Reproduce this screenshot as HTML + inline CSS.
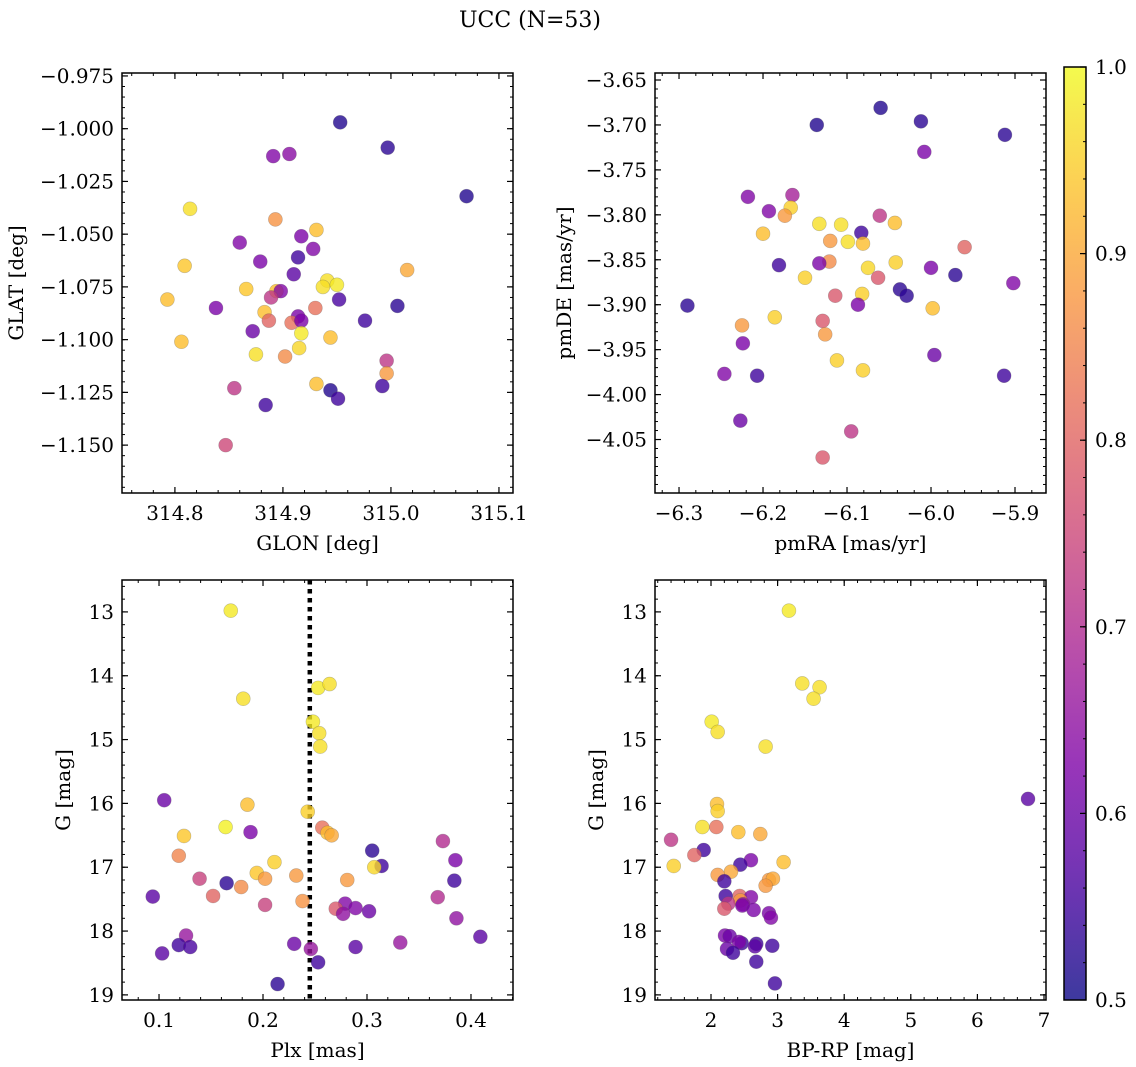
<!DOCTYPE html>
<html><head><meta charset="utf-8"><style>
body{margin:0;background:#fff}
svg{display:block;font-family:"DejaVu Serif","Liberation Serif",serif}
</style></head><body>
<svg id="fig" width="1136" height="1067" xmlns="http://www.w3.org/2000/svg">
<text x="530" y="27" font-size="22" text-anchor="middle">UCC (N=53)</text>
</svg>
<script>
// ---- Panel 1: GLON / GLAT ----
const glon=[314.953,314.997,314.891,314.906,315.070,314.814,314.893,314.931,314.917,314.860,314.928,314.809,314.879,314.914,314.910,315.015,314.941,314.950,314.937,314.866,314.894,314.898,314.793,314.952,315.006,314.838,314.930,314.889,314.914,314.883,314.908,314.917,314.976,314.887,314.872,314.917,314.806,314.944,314.915,314.875,314.902,314.996,314.996,314.931,314.944,314.855,314.992,314.951,314.884,314.847];
const glat=[-0.997,-1.009,-1.013,-1.012,-1.032,-1.038,-1.043,-1.048,-1.051,-1.054,-1.057,-1.065,-1.063,-1.061,-1.069,-1.067,-1.072,-1.074,-1.075,-1.076,-1.077,-1.077,-1.081,-1.081,-1.084,-1.085,-1.085,-1.080,-1.089,-1.087,-1.092,-1.091,-1.091,-1.091,-1.096,-1.097,-1.101,-1.099,-1.104,-1.107,-1.108,-1.110,-1.116,-1.121,-1.124,-1.123,-1.122,-1.128,-1.131,-1.150];
const prob1=[0.52,0.53,0.63,0.64,0.52,0.97,0.87,0.93,0.62,0.63,0.63,0.94,0.62,0.55,0.58,0.9,0.97,0.98,0.97,0.94,0.93,0.63,0.93,0.56,0.53,0.62,0.82,0.72,0.62,0.93,0.82,0.62,0.55,0.8,0.6,0.98,0.93,0.93,0.96,0.97,0.86,0.72,0.88,0.93,0.52,0.72,0.55,0.55,0.55,0.75];
// ---- Panel 2: pmRA / pmDE ----
const pmra=[-6.060,-6.136,-5.912,-6.012,-6.008,-6.218,-6.165,-6.167,-6.193,-6.174,-6.200,-6.133,-6.107,-6.061,-6.043,-6.120,-6.083,-6.099,-6.081,-6.121,-6.075,-6.042,-6.133,-6.000,-5.971,-5.902,-6.063,-6.150,-6.181,-6.290,-6.037,-6.029,-6.082,-6.114,-6.186,-5.998,-6.087,-6.225,-6.129,-6.126,-6.224,-5.996,-6.112,-6.081,-6.246,-6.207,-5.913,-6.227,-6.095,-6.129,-5.960];
const pmde=[-3.681,-3.700,-3.711,-3.696,-3.730,-3.780,-3.778,-3.792,-3.796,-3.801,-3.821,-3.810,-3.811,-3.801,-3.809,-3.829,-3.820,-3.830,-3.832,-3.852,-3.859,-3.853,-3.854,-3.859,-3.867,-3.876,-3.870,-3.870,-3.856,-3.901,-3.883,-3.890,-3.888,-3.890,-3.914,-3.904,-3.900,-3.923,-3.918,-3.933,-3.943,-3.956,-3.962,-3.973,-3.977,-3.979,-3.979,-4.029,-4.041,-4.070,-3.836];
const prob2=[0.52,0.52,0.53,0.53,0.62,0.63,0.68,0.95,0.63,0.88,0.93,0.97,0.97,0.72,0.93,0.88,0.55,0.97,0.93,0.86,0.96,0.95,0.62,0.62,0.53,0.63,0.78,0.95,0.55,0.53,0.53,0.53,0.95,0.78,0.95,0.93,0.62,0.88,0.78,0.88,0.62,0.6,0.95,0.95,0.63,0.55,0.55,0.6,0.72,0.78,0.8];
// ---- Panel 3: Plx / G ----
const plx=[0.105,0.185,0.164,0.188,0.124,0.119,0.211,0.194,0.202,0.232,0.139,0.165,0.179,0.152,0.094,0.202,0.238,0.126,0.119,0.130,0.103,0.230,0.214,0.243,0.257,0.262,0.266,0.373,0.305,0.385,0.314,0.307,0.281,0.384,0.368,0.279,0.270,0.277,0.289,0.302,0.386,0.409,0.332,0.246,0.289,0.253,0.169,0.253,0.264,0.181,0.248,0.254,0.255];
const gmag3=[15.95,16.02,16.37,16.45,16.51,16.82,16.92,17.09,17.18,17.13,17.18,17.25,17.31,17.45,17.46,17.59,17.53,18.07,18.22,18.25,18.35,18.20,18.83,16.13,16.38,16.46,16.50,16.59,16.74,16.89,16.98,17.00,17.20,17.21,17.47,17.57,17.65,17.73,17.64,17.69,17.80,18.09,18.18,18.28,18.25,18.49,12.98,14.19,14.13,14.36,14.72,14.90,15.11];
const prob3=[0.6,0.93,0.99,0.62,0.94,0.85,0.95,0.94,0.88,0.88,0.74,0.53,0.86,0.8,0.58,0.74,0.87,0.66,0.55,0.56,0.58,0.6,0.53,0.95,0.82,0.93,0.9,0.7,0.53,0.62,0.55,0.96,0.88,0.55,0.7,0.63,0.78,0.65,0.63,0.6,0.65,0.58,0.66,0.66,0.58,0.55,0.98,0.98,0.97,0.97,0.98,0.97,0.97];
const plxLine=0.245;
// ---- Panel 4: BP-RP / G ----
const bprp=[3.17,3.37,3.63,3.54,2.01,2.10,2.82,6.76,2.09,2.10,1.87,1.40,2.08,2.41,2.74,1.89,1.75,2.60,3.09,2.44,1.44,2.30,2.10,2.87,2.93,2.82,2.20,2.43,2.60,2.44,2.22,2.48,2.26,2.47,2.20,2.64,2.87,2.90,2.21,2.28,2.46,2.42,2.68,2.66,2.92,2.24,2.33,2.68,2.96];
const gmag4=[12.98,14.12,14.18,14.36,14.72,14.88,15.11,15.93,16.01,16.12,16.37,16.57,16.37,16.45,16.48,16.73,16.81,16.89,16.92,16.96,16.98,17.07,17.12,17.20,17.18,17.29,17.22,17.45,17.47,17.52,17.45,17.58,17.57,17.60,17.65,17.67,17.72,17.79,18.07,18.08,18.19,18.17,18.20,18.24,18.23,18.28,18.34,18.48,18.82];
const prob4=[0.98,0.97,0.97,0.97,0.98,0.97,0.97,0.58,0.93,0.95,0.97,0.72,0.82,0.93,0.9,0.55,0.8,0.62,0.93,0.55,0.95,0.9,0.88,0.88,0.9,0.88,0.55,0.8,0.63,0.88,0.55,0.65,0.72,0.62,0.78,0.62,0.62,0.63,0.62,0.6,0.55,0.62,0.55,0.58,0.55,0.6,0.55,0.55,0.55];
// ---- Colorbar ----
const cbTicks=[0.5,0.6,0.7,0.8,0.9,1.0];

const NS="http://www.w3.org/2000/svg";
const svg=document.getElementById('fig');
const FS=20;
function mk(tag,attrs,parent){const e=document.createElementNS(NS,tag);for(const k in attrs)e.setAttribute(k,attrs[k]);(parent||svg).appendChild(e);return e;}
const stops=[[13,8,135],[76,2,161],[126,3,168],[169,35,149],[204,71,120],[229,107,93],[248,149,64],[253,195,40],[240,249,33]];
function plasma(p){let t=Math.max(0,Math.min(1,(p-0.5)/0.5))*(stops.length-1);const i=Math.min(Math.floor(t),stops.length-2);const f=t-i;const c=stops[i].map((v,k)=>Math.round(v+(stops[i+1][k]-v)*f));return 'rgb('+c.join(',')+')';}
function fmt(v,d){const s=Math.abs(v).toFixed(d);return (v<0?'\u2212':'')+s;}

function panel(o){
  const g=mk('g',{});
  
  
  const X=v=>o.x0+(v-o.xmin)/(o.xmax-o.xmin)*(o.x1-o.x0);
  const Y=v=>o.yinv? o.y0+(v-o.ymin)/(o.ymax-o.ymin)*(o.y1-o.y0) : o.y1-(v-o.ymin)/(o.ymax-o.ymin)*(o.y1-o.y0);
  const eps=1e-9;
  for(let v=Math.ceil(o.xmin/o.xminor-eps)*o.xminor;v<=o.xmax+eps;v+=o.xminor){const px=X(v);
    mk('line',{x1:px,x2:px,y1:o.y1,y2:o.y1-3,stroke:'#000','stroke-width':1},g);
    mk('line',{x1:px,x2:px,y1:o.y0,y2:o.y0+3,stroke:'#000','stroke-width':1},g);}
  for(let v=Math.ceil(o.ymin/o.yminor-eps)*o.yminor;v<=o.ymax+eps;v+=o.yminor){const py=Y(v);
    mk('line',{x1:o.x0,x2:o.x0+3,y1:py,y2:py,stroke:'#000','stroke-width':1},g);
    mk('line',{x1:o.x1,x2:o.x1-3,y1:py,y2:py,stroke:'#000','stroke-width':1},g);}
  o.xticks.forEach(v=>{const px=X(v);
    mk('line',{x1:px,x2:px,y1:o.y1,y2:o.y1-6,stroke:'#000','stroke-width':1.2},g);
    mk('line',{x1:px,x2:px,y1:o.y0,y2:o.y0+6,stroke:'#000','stroke-width':1.2},g);
    const t=mk('text',{x:px,y:o.y1+27,'font-size':FS,'text-anchor':'middle'},g);t.textContent=fmt(v,o.xdec);
    
    });
  o.yticks.forEach(v=>{const py=Y(v);
    mk('line',{x1:o.x0,x2:o.x0+6,y1:py,y2:py,stroke:'#000','stroke-width':1.2},g);
    mk('line',{x1:o.x1,x2:o.x1-6,y1:py,y2:py,stroke:'#000','stroke-width':1.2},g);
    const t=mk('text',{x:o.x0-8,y:py+7,'font-size':FS,'text-anchor':'end'},g);t.textContent=fmt(v,o.ydec);
    
    });
  if(o.vline!==undefined){const l=mk('line',{x1:X(o.vline),x2:X(o.vline),y1:o.y0,y2:o.y1,stroke:'#000','stroke-width':4.5,'stroke-dasharray':'4.5,4.5'},g);
    
    }
  o.xs.forEach((xv,i)=>{const col=plasma(o.ps[i]);
    const c=mk('circle',{cx:X(xv),cy:Y(o.ys[i]),r:7,fill:col,'fill-opacity':0.8,stroke:'#555','stroke-opacity':0.35,'stroke-width':0.6},g);
    
    });
  const fr=mk('rect',{x:o.x0,y:o.y0,width:o.x1-o.x0,height:o.y1-o.y0,fill:'none',stroke:'#000','stroke-width':1.5},g);
  
  
  const xl=mk('text',{x:(o.x0+o.x1)/2,y:o.y1+57,'font-size':FS,'text-anchor':'middle'},g);xl.textContent=o.xlabel;
  
  
  const yx=o.ylx;const yy=(o.y0+o.y1)/2;
  const yl=mk('text',{x:yx,y:yy,'font-size':FS,'text-anchor':'middle',transform:'rotate(-90 '+yx+' '+yy+')'},g);yl.textContent=o.ylabel;
  
  
}
function range(a,b,s){const r=[];for(let v=a;v<=b+1e-9;v+=s)r.push(Math.round(v*1e4)/1e4);return r;}

panel({name:'glon-glat-panel',x0:122,x1:513,y0:73,y1:493,xmin:314.751,xmax:315.113,ymin:-1.1727,ymax:-0.9736,
  xticks:[314.8,314.9,315.0,315.1],xdec:1,xminor:0.02,yticks:range(-1.15,-0.975,0.025),ydec:3,yminor:0.005,
  xs:glon,ys:glat,ps:prob1,xlabel:'GLON [deg]',ylabel:'GLAT [deg]',ylx:23});
panel({name:'pm-panel',x0:655,x1:1046,y0:73,y1:493,xmin:-6.3286,xmax:-5.8631,ymin:-4.1095,ymax:-3.6422,
  xticks:[-6.3,-6.2,-6.1,-6.0,-5.9],xdec:1,xminor:0.02,yticks:range(-4.05,-3.65,0.05),ydec:2,yminor:0.01,
  xs:pmra,ys:pmde,ps:prob2,xlabel:'pmRA [mas/yr]',ylabel:'pmDE [mas/yr]',ylx:571});
panel({name:'plx-g-panel',x0:122,x1:513,y0:580,y1:1000,xmin:0.0644,xmax:0.4404,ymin:12.50,ymax:19.08,yinv:true,
  xticks:[0.1,0.2,0.3,0.4],xdec:1,xminor:0.02,yticks:[13,14,15,16,17,18,19],ydec:0,yminor:0.2,
  xs:plx,ys:gmag3,ps:prob3,vline:plxLine,xlabel:'Plx [mas]',ylabel:'G [mag]',ylx:70});
panel({name:'cmd-panel',x0:655,x1:1046,y0:580,y1:1000,xmin:1.159,xmax:7.03,ymin:12.50,ymax:19.08,yinv:true,
  xticks:[2,3,4,5,6,7],xdec:0,xminor:0.2,yticks:[13,14,15,16,17,18,19],ydec:0,yminor:0.2,
  xs:bprp,ys:gmag4,ps:prob4,xlabel:'BP-RP [mag]',ylabel:'G [mag]',ylx:603});

const cb=mk('g',{});


const defs=mk('defs',{},cb);
const lg=mk('linearGradient',{id:'plasmaG',x1:0,y1:1,x2:0,y2:0},defs);
for(let i=0;i<=20;i++){const p=0.5+i/40;mk('stop',{offset:(i/20),'stop-color':plasma(p),'stop-opacity':0.8},lg);}
const cbx0=1064,cbx1=1086,cby0=67,cby1=1000;
mk('rect',{x:cbx0,y:cby0,width:cbx1-cbx0,height:cby1-cby0,fill:'url(#plasmaG)',stroke:'#000','stroke-width':1.5},cb);
const CY=v=>cby1-(v-0.5)/0.5*(cby1-cby0);
for(let v=0.52;v<1.0;v+=0.02){mk('line',{x1:cbx1,x2:cbx1-3,y1:CY(v),y2:CY(v),stroke:'#000','stroke-width':1},cb);}
cbTicks.forEach(v=>{mk('line',{x1:cbx1,x2:cbx1-6,y1:CY(v),y2:CY(v),stroke:'#000','stroke-width':1.2},cb);
  const t=mk('text',{x:1095,y:CY(v)+7,'font-size':FS},cb);t.textContent=v.toFixed(1);
  
  });
</script>
</body></html>
